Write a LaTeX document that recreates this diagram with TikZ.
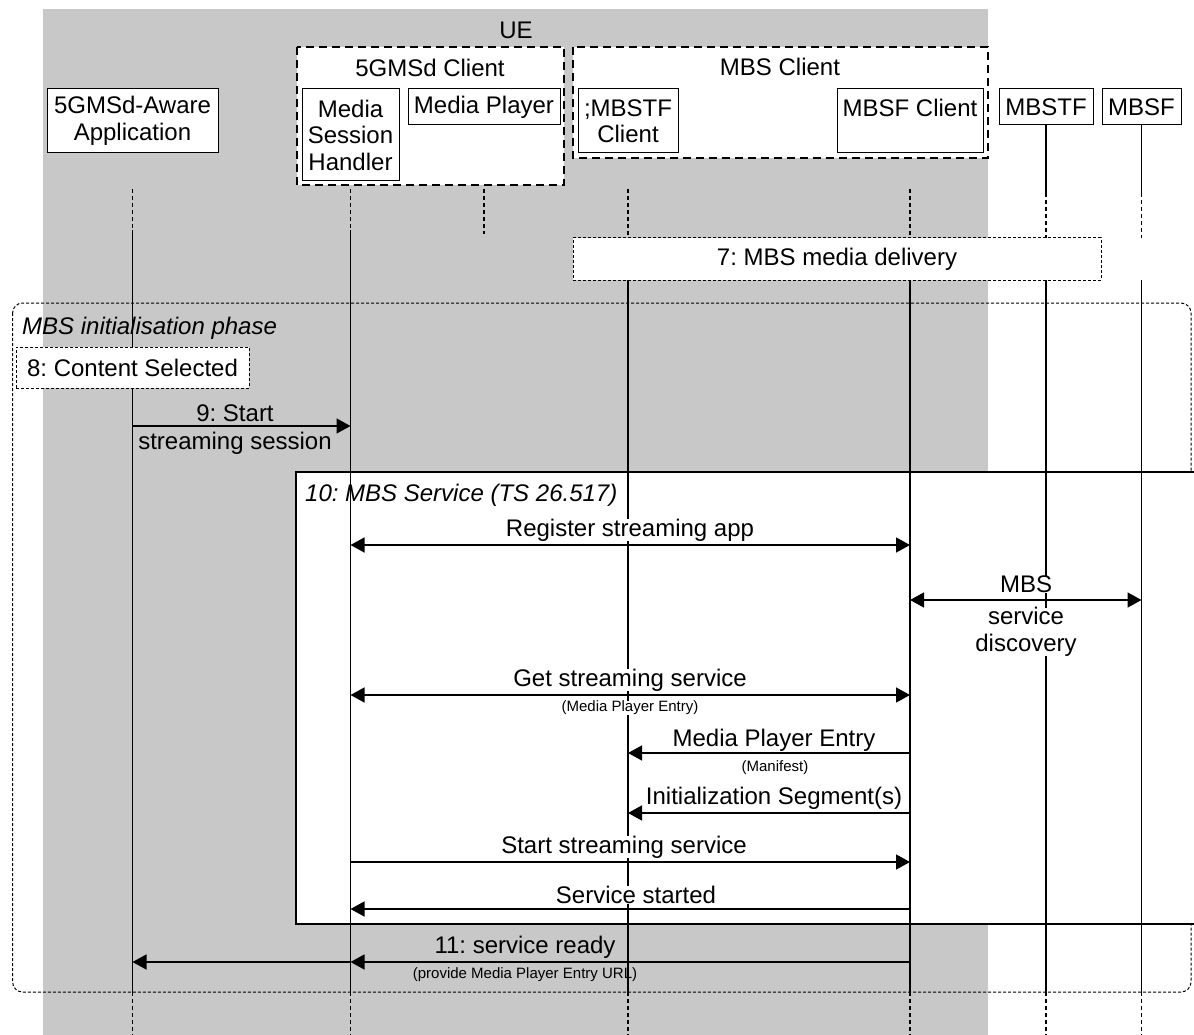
\documentclass[tikz,border=0pt]{standalone}
\usepackage{fontspec}
\setmainfont{Liberation Sans}
\usetikzlibrary{arrows.meta}
\definecolor{uegray}{RGB}{200,200,200}
\frenchspacing
\begin{document}
\begin{tikzpicture}[x=1pt,y=1pt,
  txt/.style={font=\fontsize{24}{26.5}\selectfont, inner sep=0pt, align=center},
  itxt/.style={font=\fontsize{24}{26.5}\selectfont\itshape, inner sep=0pt},
  small/.style={font=\fontsize{15}{17}\selectfont, inner sep=0pt},
  ent/.style={draw, line width=1pt, fill=white, txt},
  grp/.style={draw, line width=1.4pt, dash pattern=on 8pt off 5pt, fill=white},
  fine/.style={draw, line width=1pt, dash pattern=on 3pt off 2pt},
  life/.style={line width=1.1pt},
  lifed/.style={line width=1.1pt, dash pattern=on 4pt off 3pt},
  msg/.style={line width=1.5pt, -{Triangle[length=14pt,width=15pt]}},
  dmsg/.style={line width=1.5pt, {Triangle[length=14pt,width=15pt]}-{Triangle[length=14pt,width=15pt]}},
  lab/.style={txt, fill=white},
  slab/.style={small, fill=white},
]
\useasboundingbox (0,0) rectangle (1194,-1035);
\clip (0,0) rectangle (1194,-1035);

% UE background
\fill[uegray] (43,-9) rectangle (988,-1035);
\node[txt] (ue) at (516,-30) {UE};

% groups
\draw[grp] (297,-47) rectangle (564,-185);
\node[txt] (gmsl) at (430,-68) {5GMSd Client};
\draw[grp] (573,-47) rectangle (988,-158);
\node[txt] (mbscl) at (780,-67) {MBS Client};

% entities
\node[ent, minimum width=171, minimum height=64] (app) at (132.5,-121) {5GMSd-Aware\\Application};
\node[ent, minimum width=97, minimum height=92] (msh) at (350.5,-135) {Media\\Session\\Handler};
\node[ent, minimum width=152, minimum height=36] (mp) at (484,-107) {Media Player};
\node[ent, minimum width=100, minimum height=64] (mbstfc) at (628,-121) {;MBSTF\\Client};
\node[ent, minimum width=146, minimum height=64] (mbsfc) at (910,-121) {MBSF Client\\~};
\node[ent, minimum width=94, minimum height=36] (mbstf) at (1046,-107) {MBSTF};
\node[ent, minimum width=79, minimum height=36] (mbsf) at (1141.5,-107) {MBSF};

% phase box
\draw[fine, rounded corners=10pt] (12.6,-303) rectangle (1191,-992);
\node[itxt, anchor=west] (phl) at (22,-328) {MBS initialisation phase};

% box 10
\draw[line width=1.2pt, fill=white] (296,-472) rectangle (1210,-924);
\node[itxt, anchor=west, fill=white] (b10) at (305,-495) {10: MBS Service (TS 26.517)};

% lifelines
\foreach \n in {app,msh} {
  \draw[lifed] (\n |- 0,-189) -- (\n |- 0,-230);
  \draw[life] (\n |- 0,-230) -- (\n |- 0,-992);
  \draw[lifed] (\n |- 0,-992) -- (\n |- 0,-1035);
}
\draw[lifed] (mp |- 0,-189) -- (mp |- 0,-234);
\foreach \n in {mbstfc,mbsfc} {
  \draw[lifed] (\n |- 0,-189) -- (\n |- 0,-238);
  \draw[life] (\n |- 0,-280) -- (\n |- 0,-992);
  \draw[lifed] (\n |- 0,-992) -- (\n |- 0,-1035);
}
\foreach \n in {mbstf,mbsf} {
  \draw[life] (\n.south) -- (\n |- 0,-193);
  \draw[lifed] (\n |- 0,-193) -- (\n |- 0,-238);
  \draw[life] (\n |- 0,-280) -- (\n |- 0,-992);
  \draw[lifed] (\n |- 0,-992) -- (\n |- 0,-1035);
}

% boxes over lifelines
\node[fine, fill=white, minimum width=528, minimum height=42, txt] (mdel) at (837,-259) {7: MBS media delivery};
\node[fine, fill=white, minimum width=233, minimum height=41, txt] (csel) at (132.5,-367.5) {8: Content Selected};

% 9
\node[txt] (l9a) at (235,-413) {9: Start};
\node[txt] (l9b) at (235,-443) {streaming session};
\draw[msg] (app |- 0,-426) -- (msh |- 0,-426);

% register
\node[lab] (lreg) at (630,-530) {Register streaming app};
\draw[dmsg] (msh |- 0,-545) -- (mbsfc |- 0,-545);

% discovery
\node[lab] (ldis1) at (1026,-584) {MBS};
\node[lab] (ldis2) at (1026,-632) {service\\discovery};
\draw[dmsg] (mbsfc |- 0,-600) -- (mbsf |- 0,-600);

% get
\node[lab] (lget) at (630,-680) {Get streaming service};
\node[slab] (lget2) at (630,-708) {(Media Player Entry)};
\draw[dmsg] (msh |- 0,-695) -- (mbsfc |- 0,-695);

% MPE
\node[lab] (lmpe) at (774,-740) {Media Player Entry};
\node[slab] (lmpe2) at (775,-768) {(Manifest)};
\draw[msg] (mbsfc |- 0,-753) -- (mbstfc |- 0,-753);

% init
\node[lab] (lini) at (774,-798) {Initialization Segment(s)};
\draw[msg] (mbsfc |- 0,-813) -- (mbstfc |- 0,-813);

% start
\node[lab] (lsta) at (624,-847) {Start streaming service};
\draw[msg] (msh |- 0,-862) -- (mbsfc |- 0,-862);

% started
\node[lab] (lstd) at (636,-895) {Service started};
\draw[msg] (mbsfc |- 0,-909) -- (msh |- 0,-909);

% 11
\node[txt] (l11) at (525,-947) {11: service ready};
\node[small] (l11b) at (525,-975) {(provide Media Player Entry URL)};
\draw[msg] (mbsfc |- 0,-962) -- (msh |- 0,-962);
\draw[msg] (msh |- 0,-962) -- (app |- 0,-962);
\end{tikzpicture}
\end{document}
